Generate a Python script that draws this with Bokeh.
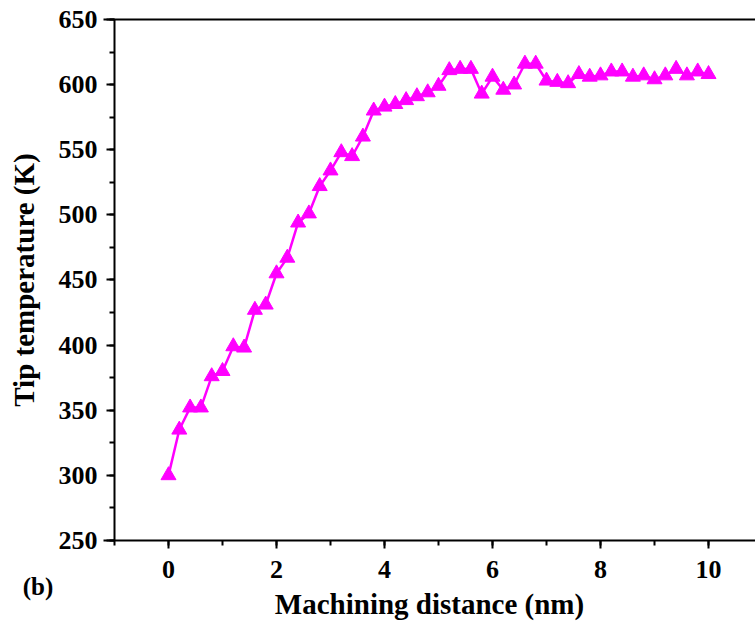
from bokeh.plotting import figure
from bokeh.models import Range1d, SingleIntervalTicker, LinearAxis, FixedTicker, Label
from bokeh.embed import file_html
from bokeh.resources import INLINE

distance = [0.0, 0.2, 0.4, 0.6, 0.8, 1.0, 1.2, 1.4, 1.6, 1.8,
            2.0, 2.2, 2.4, 2.6, 2.8, 3.0, 3.2, 3.4, 3.6, 3.8,
            4.0, 4.2, 4.4, 4.6, 4.8, 5.0, 5.2, 5.4, 5.6, 5.8,
            6.0, 6.2, 6.4, 6.6, 6.8, 7.0, 7.2, 7.4, 7.6, 7.8,
            8.0, 8.2, 8.4, 8.6, 8.8, 9.0, 9.2, 9.4, 9.6, 9.8, 10.0]
temperature = [300, 335, 352, 352, 376, 380, 399, 398, 427, 431,
               455, 467, 494, 501, 522, 534, 548, 545, 560, 580,
               583, 585, 588, 591, 594, 599, 611, 612, 612, 593,
               606, 596, 600, 616, 616, 603, 602, 601, 608, 606,
               607, 610, 610, 606, 607, 604, 607, 612, 607, 610, 608]

x_label = "Machining distance (nm)"
y_label = "Tip temperature (K)"
panel_tag = "(b)"

FONT = "Liberation Serif"
MAGENTA = "#ff00ff"

# axis extents (data units)
X_MIN, X_MAX = -1.0, 10.87
Y_MIN, Y_MAX = 250, 650

p = figure(width=755, height=628, output_backend="svg", toolbar_location=None,
           x_range=Range1d(-3.111, X_MAX), y_range=Range1d(182.4, 664.6),
           x_axis_type=None, y_axis_type=None,
           min_border_left=0, min_border_top=0, min_border_right=0,
           min_border_bottom=0)
p.outline_line_color = None
p.background_fill_color = "white"
p.border_fill_color = "white"


def style(ax):
    ax.axis_line_width = 2
    ax.axis_line_color = "black"
    ax.major_tick_line_width = 2
    ax.minor_tick_line_width = 2
    ax.major_tick_in = 0
    ax.major_tick_out = 8
    ax.minor_tick_in = 0
    ax.minor_tick_out = 5
    ax.major_label_text_font = FONT
    ax.major_label_text_font_style = "bold"
    ax.major_label_text_font_size = "26px"
    ax.major_label_text_color = "black"
    ax.axis_label_text_font = FONT
    ax.axis_label_text_font_style = "bold"
    ax.axis_label_text_font_size = "29px"
    ax.axis_label_text_color = "black"


xaxis = LinearAxis(ticker=SingleIntervalTicker(interval=2, num_minor_ticks=2),
                   axis_label=x_label, fixed_location=Y_MIN,
                   bounds=(-1.2, X_MAX))
style(xaxis)
xaxis.major_label_standoff = 13
xaxis.axis_label_standoff = 6
p.add_layout(xaxis, "below")

yaxis = LinearAxis(ticker=SingleIntervalTicker(interval=50, num_minor_ticks=2),
                   axis_label=y_label, fixed_location=X_MIN,
                   bounds=(Y_MIN, Y_MAX))
style(yaxis)
yaxis.major_label_standoff = 9
yaxis.axis_label_standoff = 16
p.add_layout(yaxis, "left")

top = LinearAxis(ticker=FixedTicker(ticks=[]), fixed_location=Y_MAX,
                 bounds=(-1.2, X_MAX), axis_line_width=2, axis_line_color="black",
                 major_tick_out=0, major_tick_in=0, minor_tick_out=0, minor_tick_in=0,
                 major_label_text_font_size="0px", major_label_standoff=0)
p.add_layout(top, "above")

p.line(distance, temperature, line_color=MAGENTA, line_width=2.5)
p.scatter(distance, temperature, marker="triangle", size=15,
          fill_color=MAGENTA, line_color=MAGENTA)

tag = Label(x=-2.70, y=214.7, text=panel_tag, text_font=FONT, text_font_style="bold",
            text_font_size="25px", text_color="black",
            text_align="left", text_baseline="middle")
p.add_layout(tag)

open("out.html", "w").write(file_html(p, INLINE))
